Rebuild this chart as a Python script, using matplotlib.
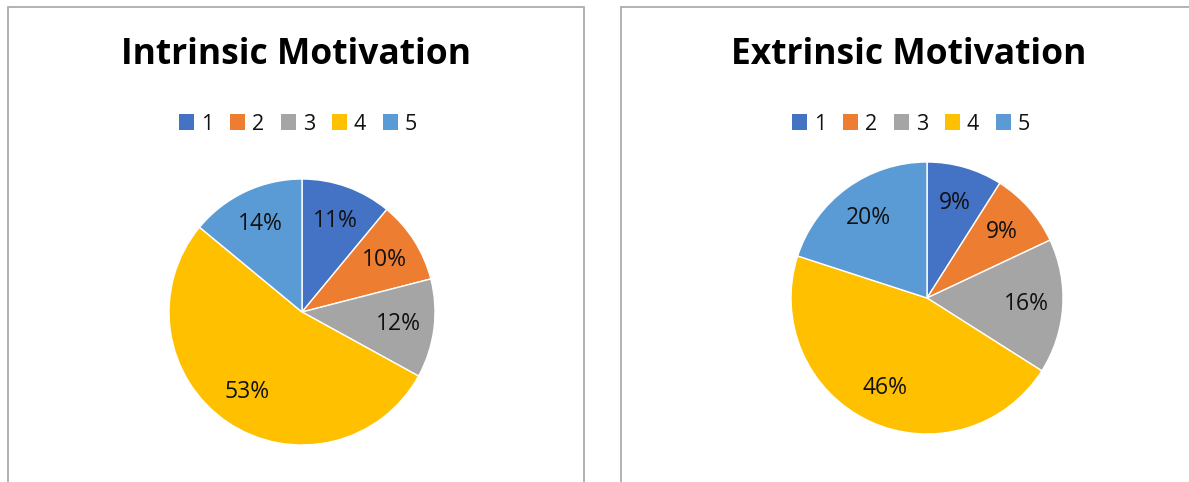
import matplotlib.pyplot as plt
from matplotlib.patches import Rectangle, Patch

# data
categories = ["1", "2", "3", "4", "5"]
intrinsic = [11, 10, 12, 53, 14]
extrinsic = [9, 9, 16, 46, 20]
titles = ["Intrinsic Motivation", "Extrinsic Motivation"]
colors = ["#4472C4", "#ED7D31", "#A5A5A5", "#FFC000", "#5B9BD5"]

plt.rcParams['font.family'] = ['Open Sans', 'DejaVu Sans']

W, H = 1189, 482
fig = plt.figure(figsize=(W / 100, H / 100), dpi=100)


def fx(px):
    return px / W


def fy(py):
    return 1 - py / H


# panel frames (pixel coords from the reference)
panels = [(8, 584), (621, 1200)]
for left, right in panels:
    fig.patches.append(Rectangle((fx(left), fy(H + 10)), fx(right - left), fy(7) - fy(H + 10),
                                 transform=fig.transFigure, fill=False,
                                 edgecolor="#a6a6a6", linewidth=1.2))

# pie geometry: centre x, centre y, radius (pixels)
pies = [(302, 312, 133), (927, 298, 136)]
title_x = [296, 909]
series = [intrinsic, extrinsic]

for (cx, cy, r), vals, title, tx in zip(pies, series, titles, title_x):
    ax = fig.add_axes([fx(cx - r), fy(cy + r), fx(2 * r), fy(cy - r) - fy(cy + r)])
    wedges, texts, autotexts = ax.pie(
        vals, colors=colors, startangle=90, counterclock=False,
        autopct='%.0f%%', pctdistance=0.73, radius=1,
        wedgeprops=dict(edgecolor="white", linewidth=1.0),
        textprops=dict(fontsize=16.5, color="#111111"))
    ax.set_xlim(-1, 1)
    ax.set_ylim(-1, 1)
    ax.set_aspect('equal')
    ax.axis('off')

    fig.text(fx(tx), fy(55), title, ha='center', va='center',
             fontsize=25.5, fontweight='bold', color="#000000")

    handles = [Patch(facecolor=c, edgecolor='none') for c in colors]
    fig.legend(handles, categories, loc='center', bbox_to_anchor=(fx(tx + 2), fy(124)),
               ncol=5, frameon=False, fontsize=15.5, handlelength=0.7, handleheight=0.7,
               handletextpad=0.3, columnspacing=0.8, labelcolor="#111111")

fig.savefig("out.png", dpi=100, facecolor="white")
